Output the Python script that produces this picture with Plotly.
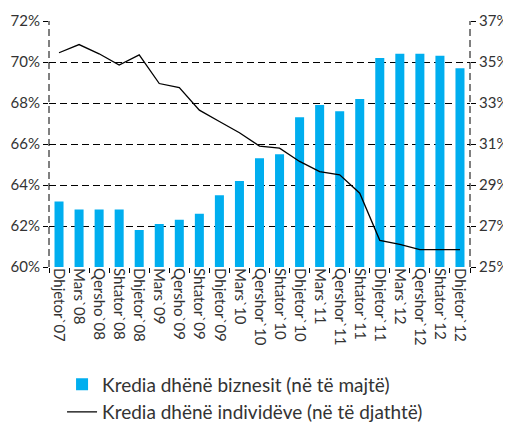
import plotly.graph_objects as go

# quarters along the x axis
periods = ["Dhjetor`07", "Mars`08", "Qersho`08", "Shtator`08", "Dhjetor`08",
           "Mars`09", "Qersho`09", "Shtator`09", "Dhjetor`09", "Mars`10",
           "Qershor`10", "Shtator`10", "Dhjetor`10", "Mars`11", "Qershor`11",
           "Shtator`11", "Dhjetor`11", "Mars`12", "Qershor`12", "Shtator`12",
           "Dhjetor`12"]

# business loans share, left axis (%)
biznes = [63.2, 62.8, 62.8, 62.8, 61.8, 62.1, 62.3, 62.6, 63.5, 64.2,
          65.3, 65.5, 67.3, 67.9, 67.6, 68.2, 70.2, 70.4, 70.4, 70.3, 69.7]

# individuals loans share, right axis (%)
individe = [35.45, 35.85, 35.4, 34.85, 35.35, 33.95, 33.75, 32.65, 32.1, 31.55,
            30.9, 30.8, 30.15, 29.65, 29.5, 28.6, 26.3, 26.1, 25.85, 25.85, 25.85]

font_name = "Lato"
grey = "#333333"
dash = "7px,4px"

fig = go.Figure()

fig.add_trace(go.Bar(
    x=periods, y=biznes,
    marker=dict(color="#00aeef", line=dict(width=0)),
    name="Kredia dhënë biznesit (në të majtë)",
))

fig.add_trace(go.Scatter(
    x=periods, y=individe, yaxis="y2", mode="lines",
    line=dict(color="black", width=1.3),
    name="Kredia dhënë individëve (në të djathtë)",
))

# dashed frame on the left and right sides
for xp in (0, 1):
    fig.add_shape(type="line", xref="paper", yref="paper",
                  x0=xp, x1=xp, y0=0, y1=1,
                  line=dict(color="black", width=1, dash=dash))

# page body adds an 8px margin, so the figure is 8px smaller
fig.update_layout(
    width=503, height=416,
    margin=dict(l=41, r=41, t=13, b=157, autoexpand=False),
    plot_bgcolor="white", paper_bgcolor="white",
    font=dict(family=font_name, size=15, color=grey),
    bargap=0.55,
    showlegend=True,
    legend=dict(x=0.031, y=-0.40, xanchor="left", yanchor="top",
                font=dict(size=19, color=grey), tracegroupgap=0,
                itemwidth=30, bgcolor="rgba(0,0,0,0)"),
    xaxis=dict(
        type="category", tickangle=90, tickson="boundaries",
        ticks="outside", ticklen=5, tickcolor="black",
        showgrid=False, showline=False, automargin=False,
        tickfont=dict(size=15, color=grey),
    ),
    yaxis=dict(
        range=[60, 72], dtick=2, ticksuffix="%",
        showgrid=True, gridcolor="black", griddash=dash, gridwidth=1,
        ticks="outside", ticklen=5, tickcolor="black",
        zeroline=False, showline=False, automargin=False,
        tickfont=dict(size=15, color=grey),
    ),
    yaxis2=dict(
        range=[25, 37], tick0=25, dtick=2, ticksuffix="%",
        overlaying="y", side="right",
        showgrid=False, ticks="outside", ticklen=5, tickcolor="black",
        zeroline=False, showline=False, automargin=False,
        tickfont=dict(size=15, color=grey),
    ),
)

fig.write_html("out.html")
